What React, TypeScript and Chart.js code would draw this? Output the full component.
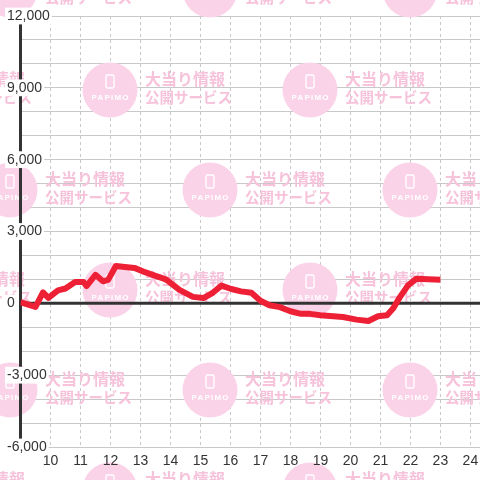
import { useEffect, useRef } from "react";
import { Chart, registerables } from "chart.js";

Chart.register(...registerables);

// ---- data ----
const hours = [
  9.0, 9.5, 9.75, 9.93, 10.25, 10.5, 10.82, 11.1, 11.2, 11.5, 11.75, 11.92,
  12.18, 12.48, 12.8, 13.15, 13.5, 13.85, 14.3, 14.75, 15.1, 15.42, 15.7,
  16.03, 16.35, 16.7, 17.0, 17.3, 17.65, 18.0, 18.35, 18.65, 19.0, 19.75,
  20.2, 20.6, 20.92, 21.22, 21.42, 21.65, 21.92, 22.2, 23.0,
];
const values = [
  50, -150, 460, 230, 540, 620, 890, 890, 720, 1190, 920, 980,
  1560, 1520, 1480, 1300, 1150, 1000, 560, 270, 220, 450, 740,
  600, 500, 440, 110, -80, -160, -330, -440, -440, -500, -570,
  -680, -740, -540, -500, -220, 260, 750, 1030, 990,
];
const xMin = 9;
const xMax = 24.32;
const xLabelFirst = 10;
const xLabelLast = 24;
const yMin = -6000;
const yMax = 12000;
const yGridStep = 1000;
const yLabelStep = 3000;
const watermarkLine1 = "大当り情報";
const watermarkLine2 = "公開サービス";
const watermarkBrand = "PAPiMO";

const FONT = "'Liberation Sans', Arial, sans-serif";

function drawUnit(ctx: CanvasRenderingContext2D, cx: number, cy: number) {
  ctx.fillStyle = "#fbd3e9";
  ctx.beginPath();
  ctx.arc(cx, cy, 27.5, 0, Math.PI * 2);
  ctx.fill();
  // phone icon
  ctx.strokeStyle = "#ffffff";
  ctx.lineWidth = 1.3;
  ctx.beginPath();
  const px = cx - 4, py = cy - 15, pw = 8, ph = 13, r = 1.5;
  ctx.moveTo(px + r, py);
  ctx.lineTo(px + pw - r, py);
  ctx.quadraticCurveTo(px + pw, py, px + pw, py + r);
  ctx.lineTo(px + pw, py + ph - r);
  ctx.quadraticCurveTo(px + pw, py + ph, px + pw - r, py + ph);
  ctx.lineTo(px + r, py + ph);
  ctx.quadraticCurveTo(px, py + ph, px, py + ph - r);
  ctx.lineTo(px, py + r);
  ctx.quadraticCurveTo(px, py, px + r, py);
  ctx.stroke();
  // brand
  ctx.fillStyle = "#ffffff";
  ctx.font = `bold 8px ${FONT}`;
  (ctx as any).letterSpacing = "1.2px";
  ctx.textAlign = "center";
  ctx.textBaseline = "middle";
  ctx.fillText(watermarkBrand, cx + 0.6, cy + 8);
  (ctx as any).letterSpacing = "0px";
  // text
  ctx.fillStyle = "#f6c3db";
  ctx.textAlign = "left";
  ctx.font = `bold 16px 'Noto Sans CJK JP', sans-serif`;
  ctx.fillText(watermarkLine1, cx + 35, cy - 11);
  ctx.font = `bold 14.5px 'Noto Sans CJK JP', sans-serif`;
  ctx.fillText(watermarkLine2, cx + 35, cy + 7);
}

const watermarkPlugin = {
  id: "watermarkAndAxes",
  beforeDatasetsDraw(chart: any) {
    const { ctx, chartArea, scales } = chart;
    ctx.save();
    for (let j = -1; j <= 3; j++) {
      for (let i = -1; i <= 3; i++) {
        drawUnit(ctx, 10 + 200 * i, -10 + 200 * j);
        drawUnit(ctx, 110 + 200 * i, 90 + 200 * j);
      }
    }
    ctx.strokeStyle = "#333333";
    ctx.lineWidth = 3;
    const y0 = scales.y.getPixelForValue(0);
    ctx.beginPath();
    ctx.moveTo(chartArea.left, y0);
    ctx.lineTo(chartArea.right, y0);
    ctx.stroke();
    ctx.beginPath();
    ctx.moveTo(chartArea.left, chartArea.top);
    ctx.lineTo(chartArea.left, chartArea.bottom);
    ctx.stroke();
    ctx.restore();
  },
};

export default function App() {
  const ref = useRef<HTMLCanvasElement | null>(null);
  useEffect(() => {
    if (!ref.current) return;
    const chart = new Chart(ref.current, {
      type: "line",
      data: {
        datasets: [
          {
            data: hours.map((h, i) => ({ x: h, y: values[i] })),
            borderColor: "#ee2036",
            borderWidth: 6,
            pointRadius: 0,
            tension: 0,
            borderJoinStyle: "round",
            fill: false,
          },
        ],
      },
      options: {
        animation: false,
        responsive: false,
        layout: { autoPadding: false, padding: { left: 7, top: 16, right: 0, bottom: 0 } },
        plugins: { legend: { display: false }, tooltip: { enabled: false } },
        scales: {
          x: {
            type: "linear",
            min: xMin,
            max: xMax,
            grid: { color: "#c8c8c8", lineWidth: 1, drawTicks: false },
            border: { display: false, dash: [3, 3] },
            ticks: {
              stepSize: 1,
              includeBounds: false,
              autoSkip: false,
              maxRotation: 0,
              padding: 6,
              color: "#333333",
              font: { family: FONT, size: 14 },
              z: 1,
              callback: (v: any) =>
                v >= xLabelFirst && v <= xLabelLast ? String(v) : "",
            },
            afterFit: (s: any) => {
              s.height = 33;
              s.paddingLeft = 0;
              s.paddingRight = 0;
            },
          },
          y: {
            type: "linear",
            min: yMin,
            max: yMax,
            grid: { color: "#c8c8c8", lineWidth: 1, drawTicks: false },
            border: { display: false },
            ticks: {
              stepSize: yGridStep,
              autoSkip: false,
              mirror: true,
              crossAlign: "near",
              padding: -13.5,
              color: "#333333",
              font: { family: FONT, size: 14 },
              z: 1,
              showLabelBackdrop: (c: any) => c.tick && c.tick.value % yLabelStep === 0,
              backdropColor: "#ffffff",
              backdropPadding: { top: 0, bottom: 0, left: 2, right: 2 },
              callback: (v: any) =>
                Number(v) % yLabelStep === 0 ? Number(v).toLocaleString("en-US") : "",
            },
            afterFit: (s: any) => {
              s.width = 13.5;
            },
          },
        },
      } as any,
      plugins: [watermarkPlugin],
    });
    return () => chart.destroy();
  }, []);
  return (
    <div style={{ position: "absolute", left: 0, top: 0, width: 480, height: 480, background: "#fff" }}>
      <canvas ref={ref} width={480} height={480} style={{ display: "block", width: 480, height: 480 }} />
    </div>
  );
}
